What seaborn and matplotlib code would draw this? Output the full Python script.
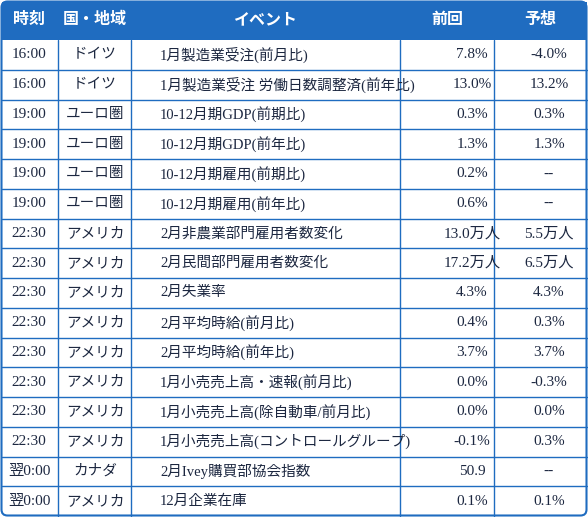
import matplotlib
matplotlib.use('Agg')
import matplotlib.pyplot as plt
import seaborn as sns
from matplotlib.patches import FancyBboxPatch, Rectangle

sns.set_theme(style='white')
plt.rcParams['font.family'] = ['Liberation Serif', 'Noto Sans CJK JP', 'DejaVu Sans']

headers = ['時刻', '国・地域', 'イベント', '前回', '予想']
times = ['16:00', '16:00', '19:00', '19:00', '19:00', '19:00', '22:30', '22:30',
         '22:30', '22:30', '22:30', '22:30', '22:30', '22:30', '翌0:00', '翌0:00']
regions = ['ドイツ', 'ドイツ', 'ユーロ圏', 'ユーロ圏', 'ユーロ圏', 'ユーロ圏', 'アメリカ', 'アメリカ',
           'アメリカ', 'アメリカ', 'アメリカ', 'アメリカ', 'アメリカ', 'アメリカ', 'カナダ', 'アメリカ']
events = ['1月製造業受注(前月比)', '1月製造業受注 労働日数調整済(前年比)', '10-12月期GDP(前期比)',
          '10-12月期GDP(前年比)', '10-12月期雇用(前期比)', '10-12月期雇用(前年比)',
          '2月非農業部門雇用者数変化', '2月民間部門雇用者数変化', '2月失業率', '2月平均時給(前月比)',
          '2月平均時給(前年比)', '1月小売売上高・速報(前月比)', '1月小売売上高(除自動車/前月比)',
          '1月小売売上高(コントロールグループ)', '2月Ivey購買部協会指数', '12月企業在庫']
previous = ['7.8%', '13.0%', '0.3%', '1.3%', '0.2%', '0.6%', '13.0万人', '17.2万人',
            '4.3%', '0.4%', '3.7%', '0.0%', '0.0%', '-0.1%', '50.9', '0.1%']
forecast = ['-4.0%', '13.2%', '0.3%', '1.3%', '--', '--', '5.5万人', '6.5万人',
            '4.3%', '0.3%', '3.7%', '-0.3%', '0.0%', '0.3%', '--', '0.1%']

W, H = 588, 517
blue = '#1f6cc0'
ink = '#1c2740'
col_edges = [1, 58, 131, 400, 494, 587]
head_h = 40
row_h = (H - 1 - head_h) / len(times)

fig = plt.figure(figsize=(W / 100, H / 100), dpi=100)
ax = fig.add_axes([0, 0, 1, 1])
ax.set_xlim(0, W)
ax.set_ylim(H, 0)
ax.axis('off')

ax.add_patch(FancyBboxPatch((1.5, 1.5), W - 3, H - 3, boxstyle='round,pad=0,rounding_size=6',
                            facecolor='white', edgecolor=blue, lw=1.5))
ax.add_patch(Rectangle((1.5, 1.5), W - 3, head_h - 1.5, facecolor=blue, edgecolor='none'))

for i, h in enumerate(headers):
    cx = (col_edges[i] + col_edges[i + 1]) / 2
    ax.text(cx, head_h / 2, h, color='white', fontsize=11.5, fontweight='bold', ha='center', va='center')

for x in col_edges[1:-1]:
    ax.plot([x, x], [head_h, H - 1.5], color=blue, lw=1)
for r in range(1, len(times)):
    y = head_h + r * row_h
    ax.plot([1.5, W - 1.5], [y, y], color=blue, lw=1)

for r in range(len(times)):
    y = head_h + (r + 0.5) * row_h
    ax.text(29, y, times[r], ha='center', va='center', fontsize=11, color=ink)
    ax.text(95, y, regions[r], ha='center', va='center', fontsize=10.5, color=ink)
    ax.text(160, y, events[r], ha='left', va='center', fontsize=10.5, color=ink)
    ax.text(472, y, previous[r], ha='center', va='center', fontsize=11, color=ink)
    ax.text(549, y, forecast[r], ha='center', va='center', fontsize=11, color=ink)

fig.savefig('out.png', dpi=100)
